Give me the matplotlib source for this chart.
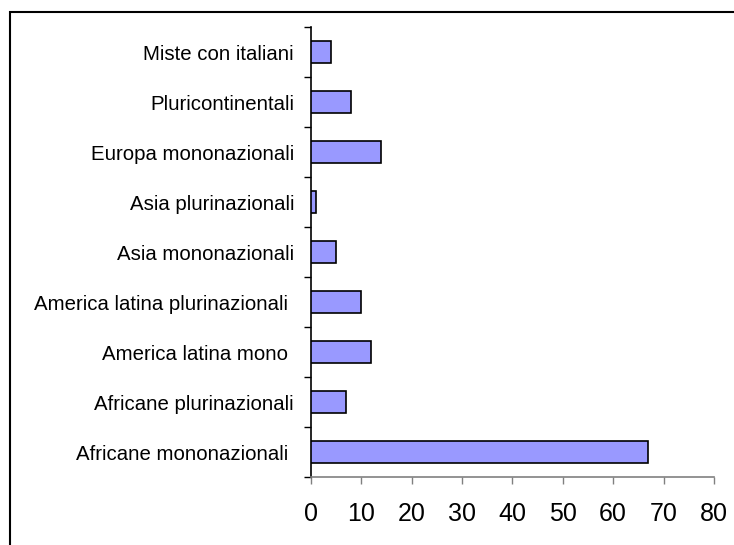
import matplotlib.pyplot as plt
from matplotlib.patches import Rectangle
import numpy as np

# categories from bottom to top
categories = [
    'Africane mononazionali ',
    'Africane plurinazionali',
    'America latina mono ',
    'America latina plurinazionali ',
    'Asia mononazionali',
    'Asia plurinazionali',
    'Europa mononazionali',
    'Pluricontinentali',
    'Miste con italiani',
]
values = [67, 7, 12, 10, 5, 1, 14, 8, 4]
x_ticks = [0, 10, 20, 30, 40, 50, 60, 70, 80]

plt.rcParams['font.family'] = ['Liberation Sans', 'DejaVu Sans']

W, H = 734, 545
fig = plt.figure(figsize=(W / 100, H / 100), dpi=100)

# chart area frame (right and bottom edges fall outside the picture)
fig.add_artist(Rectangle((9.5 / W, -0.2), 1.2, 1.2 - 11.5 / H,
                         transform=fig.transFigure, fill=False,
                         edgecolor='black', linewidth=1.5))

ax = fig.add_axes([310.7 / W, 1 - 477 / H, (714 - 310.7) / W, (477 - 27) / H])

y = np.arange(len(categories))
ax.barh(y, values, height=0.44, color='#9999FF', edgecolor='black',
        linewidth=1.2, zorder=3)

ax.set_xlim(0, 80)
ax.set_ylim(-0.5, len(categories) - 0.5)

ax.set_xticks(x_ticks)
ax.set_xticklabels([str(t) for t in x_ticks], fontsize=18)
ax.tick_params(axis='x', direction='out', length=5, width=1,
               color='#808080', pad=13)

ax.set_yticks(y)
ax.set_yticklabels(categories, fontsize=14.7, va='center_baseline')
ax.set_yticks(np.arange(len(categories) + 1) - 0.5, minor=True)
ax.tick_params(axis='y', which='major', length=0, pad=12)
ax.tick_params(axis='y', which='minor', direction='out', length=5,
               width=1, color='black')

for side in ['top', 'right']:
    ax.spines[side].set_visible(False)
ax.spines['left'].set_color('black')
ax.spines['left'].set_linewidth(1.2)
ax.spines['bottom'].set_color('#808080')
ax.spines['bottom'].set_linewidth(1.2)

fig.savefig('out.png', dpi=100)
